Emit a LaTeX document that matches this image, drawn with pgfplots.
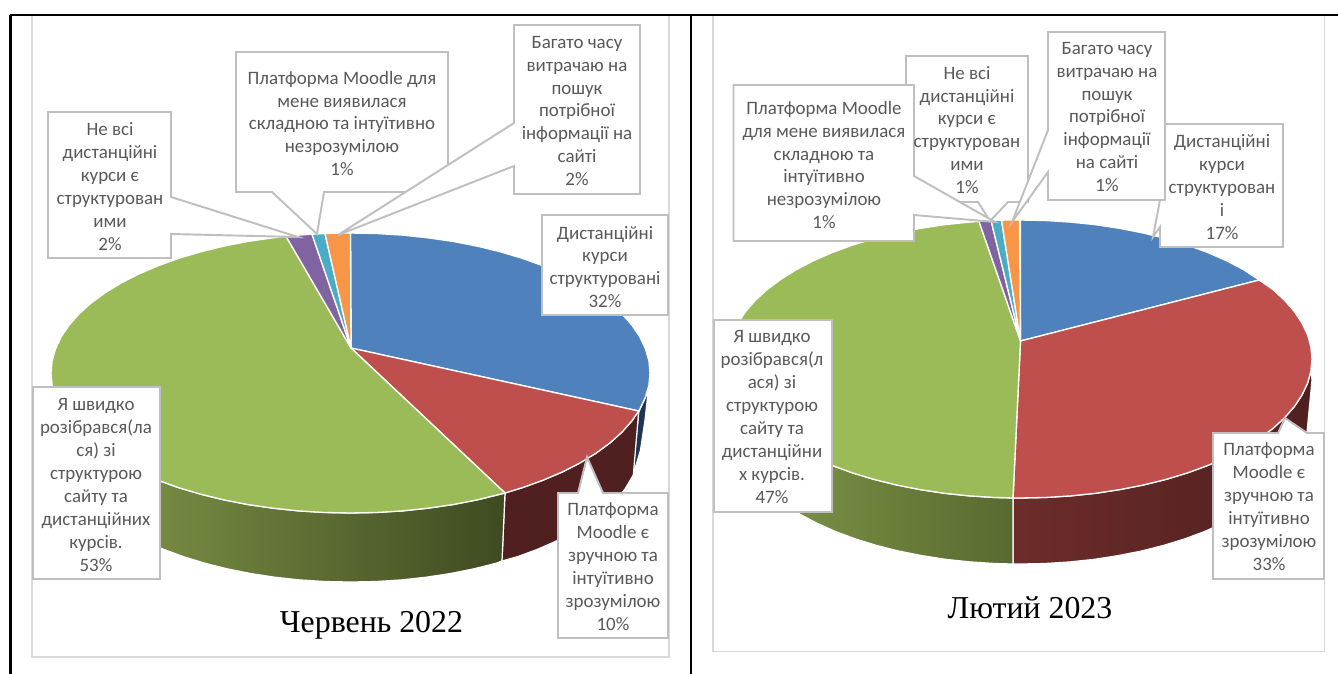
\documentclass[border=0pt]{standalone}
\usepackage{fontspec}
\setmainfont{Carlito}
\newfontfamily\titlefont{Liberation Serif}
\usepackage{pgfplots}
\pgfplotsset{compat=1.18}
\definecolor{cBlue}{HTML}{4F81BD}
\definecolor{cRed}{HTML}{BE4F4C}
\definecolor{cGreen}{HTML}{9BBB59}
\definecolor{cPurple}{HTML}{8064A2}
\definecolor{cTeal}{HTML}{4BACC6}
\definecolor{cOrange}{HTML}{F79646}
\definecolor{cNavy}{HTML}{1C3557}
\definecolor{cRedDark}{HTML}{4F201F}
\definecolor{cRedMid}{HTML}{6C2C2A}
\definecolor{cFrame}{HTML}{D9D9D9}
\definecolor{cBox}{HTML}{BFBFBF}
\definecolor{cTxt}{HTML}{595959}
\definecolor{gL1}{RGB}{133,156,75}
\definecolor{gR1}{RGB}{63,74,33}
\definecolor{gL2}{RGB}{127,149,71}
\definecolor{gR2}{RGB}{88,106,48}
\pgfplotsset{
  wedge/.style={draw=white,line width=1pt,line join=round},
  side/.style={draw=white,line width=0.9pt,line join=round},
  lbox/.style={draw=cBox,line width=1.45pt,fill=white,line join=miter},
  frame/.style={draw=cFrame,line width=1.3pt},
}
\newcommand\lab[3]{\node[font=\fontsize{14.2}{17.2}\selectfont,text=cTxt,align=center,inner sep=0pt] at (axis cs:#1,#2) {#3};}
\newcommand\ttl[3]{\node[font=\fontsize{23.9}{27}\selectfont\titlefont,text=black,inner sep=0pt] at (axis cs:#1,#2) {#3};}
\begin{document}
\begin{tikzpicture}
\begin{axis}[at={(0,0)},anchor=south west,scale only axis,width=1003.5pt,height=505.5pt,
  xmin=0,xmax=1338,ymin=0,ymax=674,y dir=reverse,hide axis,clip=true,no markers]
% frames
\addplot[frame] coordinates {(32,15)(669,15)(669,657)(32,657)} --cycle;
\addplot[frame] coordinates {(713,15)(1324.5,15)(1324.5,651.5)(713,651.5)} --cycle;
% table rules
\addplot[black,line width=1.1pt] coordinates {(10,15)(1338,15)};
\addplot[black,line width=1.9pt] coordinates {(10.5,15)(10.5,674)};
\addplot[black,line width=1.6pt] coordinates {(691,15)(691,674)};
\addplot[black,line width=1.6pt] coordinates {(1325,15.3)(1338,15.3)};
%% LEFT PIE sides
\addplot[side,fill=cNavy] coordinates {(638.7,412)(645.4,397.3)(648.5,388)(645,420)(640.5,450)(637,462)(633,474)} --cycle;
\addplot[side,fill=cRedDark] coordinates {(505,493)(522.3,487.7)(543,480.2)(562.3,472)(579.9,463)(595.8,453.3)(609.9,443)(621.9,432.2)(631.9,420.9)(638.7,411)(633.3,475)(624.9,489.2)(615.1,500.6)(603.4,511.5)(589.7,521.9)(574.2,531.6)(557,540.7)(538.2,549)(518,556.5)(502,561)} --cycle;
\addplot[side,left color=gL1,right color=gR1] coordinates {(61.2,409.2)(69.1,420.9)(79.1,432.2)(91.1,443)(105.2,453.3)(121.1,463)(138.7,472)(158,480.2)(178.7,487.7)(200.7,494.2)(223.9,499.9)(248.1,504.6)(273,508.2)(298.5,510.9)(324.4,512.5)(350.5,513)(376.6,512.5)(402.5,510.9)(428,508.2)(452.9,504.6)(477.1,499.9)(500.3,494.2)(505,493)(502,561)(496.5,563.1)(473.9,568.8)(450.4,573.5)(426.1,577.2)(401.2,579.9)(375.9,581.5)(350.5,582)(325.1,581.5)(299.8,579.9)(274.9,577.2)(250.6,573.5)(227.1,568.8)(204.5,563.1)(183,556.5)(162.8,549)(144,540.7)(126.8,531.6)(111.3,521.9)(97.6,511.5)(85.9,500.6)(76.1,489.2)(68.5,477.5)} --cycle;
%% LEFT PIE top
\addplot[wedge,fill=cBlue] coordinates {(351,348)(350.5,233)(376.6,233.5)(402.5,235.1)(428,237.8)(452.9,241.4)(477.1,246.1)(500.3,251.8)(522.3,258.3)(543,265.8)(562.3,274)(579.9,283)(595.8,292.7)(609.9,303)(621.9,313.8)(631.9,325.1)(639.8,336.8)(645.4,348.7)(648.9,360.8)(650,373)(648.9,385.2)(645.4,397.3)(639.8,409.2)(638.7,411)} --cycle;
\addplot[wedge,fill=cRed] coordinates {(351,348)(638.7,411)(631.9,420.9)(621.9,432.2)(609.9,443)(595.8,453.3)(579.9,463)(562.3,472)(543,480.2)(522.3,487.7)(505,493)} --cycle;
\addplot[wedge,fill=cGreen] coordinates {(351,348)(505,493)(500.3,494.2)(477.1,499.9)(452.9,504.6)(428,508.2)(402.5,510.9)(376.6,512.5)(350.5,513)(324.4,512.5)(298.5,510.9)(273,508.2)(248.1,504.6)(223.9,499.9)(200.7,494.2)(178.7,487.7)(158,480.2)(138.7,472)(121.1,463)(105.2,453.3)(91.1,443)(79.1,432.2)(69.1,420.9)(61.2,409.2)(55.6,397.3)(52.1,385.2)(51,373)(52.1,360.8)(55.6,348.7)(61.2,336.8)(69.1,325.1)(79.1,313.8)(91.1,303)(105.2,292.7)(121.1,283)(138.7,274)(158,265.8)(178.7,258.3)(200.7,251.8)(223.9,246.1)(248.1,241.4)(273,237.8)(286,236.3)} --cycle;
\addplot[wedge,fill=cPurple] coordinates {(351,348)(286,236.3)(298.5,235.1)(312,234.2)} --cycle;
\addplot[wedge,fill=cTeal] coordinates {(351,348)(312,234.2)(325,233.5)} --cycle;
\addplot[wedge,fill=cOrange] coordinates {(351,348)(325,233.5)(337.5,233.1)(350.5,233)} --cycle;
%% LEFT labels
\addplot[lbox] coordinates {(542,215)(668,215)(668,315)(542,315)} --cycle;
\addplot[lbox] coordinates {(558,493)(578,493)(587,457)(603,493)(668,493)(668,638)(558,638)} --cycle;
\addplot[lbox] coordinates {(33,387)(160,387)(160,579)(33,579)} --cycle;
\addplot[lbox] coordinates {(48,112)(171,112)(171,197)(298,237)(171,234)(171,258)(48,258)} --cycle;
\addplot[lbox] coordinates {(236,52)(448,52)(448,192)(324,192)(317,234)(272,192)(236,192)} --cycle;
\addplot[lbox] coordinates {(514,25)(640,25)(640,194)(514,194)(514,166)(338,235)(514,123)} --cycle;
%% RIGHT PIE sides
\addplot[side,left color=cRedMid,middle color=cRedDark,right color=cRedDark] coordinates {(1013,498)(1020,498)(1045.4,497.5)(1070.7,495.9)(1095.6,493.3)(1119.9,489.6)(1143.4,485)(1166,479.4)(1187.5,472.9)(1207.7,465.5)(1226.5,457.3)(1243.7,448.3)(1259.2,438.7)(1272.9,428.5)(1284.6,417.7)(1294.4,406.5)(1302,395)(1307.6,383.1)(1310.9,371.1)(1312,380)(1307,432)(1305.9,437.1)(1302.6,449.1)(1297.2,461)(1289.7,472.5)(1280.1,483.7)(1268.5,494.5)(1255.1,504.7)(1239.9,514.3)(1222.9,523.3)(1204.5,531.5)(1184.6,538.9)(1163.5,545.4)(1141.3,551)(1118.2,555.6)(1094.3,559.3)(1069.8,561.9)(1045,563.5)(1020,564)(1013,564)} --cycle;
\addplot[side,left color=gL2,right color=gR2] coordinates {(755.4,417.7)(767.1,428.5)(780.8,438.7)(796.3,448.3)(813.5,457.3)(832.3,465.5)(852.5,472.9)(874,479.4)(896.6,485)(920.1,489.6)(944.4,493.3)(969.3,495.9)(994.6,497.5)(1013,498)(1013,564)(995,563.5)(970.2,561.9)(945.7,559.3)(921.8,555.6)(898.7,551)(876.5,545.4)(855.4,538.9)(835.5,531.5)(817.1,523.3)(800.1,514.3)(784.9,504.7)(771.5,494.5)(759.9,483.7)} --cycle;
%% RIGHT PIE top
\addplot[wedge,fill=cBlue] coordinates {(1020.5,341)(1020.5,220)(1045.4,220.5)(1070.7,222.1)(1095.6,224.7)(1119.9,228.4)(1143.4,233)(1166,238.6)(1187.5,245.1)(1207.7,252.5)(1226.5,260.7)(1243.7,269.7)(1259.2,280)} --cycle;
\addplot[wedge,fill=cRed] coordinates {(1020.5,341)(1259.2,280)(1272.9,289.5)(1284.6,300.3)(1294.4,311.5)(1302,323)(1307.6,334.9)(1310.9,346.9)(1312,359)(1310.9,371.1)(1307.6,383.1)(1302,395)(1294.4,406.5)(1284.6,417.7)(1272.9,428.5)(1259.2,438.7)(1243.7,448.3)(1226.5,457.3)(1207.7,465.5)(1187.5,472.9)(1166,479.4)(1143.4,485)(1119.9,489.6)(1095.6,493.3)(1070.7,495.9)(1045.4,497.5)(1020,498)(1013,498)} --cycle;
\addplot[wedge,fill=cGreen] coordinates {(1020.5,341)(1013,498)(994.6,497.5)(969.3,495.9)(944.4,493.3)(920.1,489.6)(896.6,485)(874,479.4)(852.5,472.9)(832.3,465.5)(813.5,457.3)(796.3,448.3)(780.8,438.7)(767.1,428.5)(755.4,417.7)(745.6,406.5)(738,395)(732.4,383.1)(729.1,371.1)(728,359)(729.1,346.9)(732.4,334.9)(738,323)(745.6,311.5)(755.4,300.3)(767.1,289.5)(780.8,279.3)(796.3,269.7)(813.5,260.7)(832.3,252.5)(852.5,245.1)(874,238.6)(896.6,233)(920.1,228.4)(944.4,224.7)(969.3,222.1)(979,221.4)} --cycle;
\addplot[wedge,fill=cPurple] coordinates {(1020.5,341)(979,221.4)(991,220.4)} --cycle;
\addplot[wedge,fill=cTeal] coordinates {(1020.5,341)(991,220.4)(1001.5,220.1)} --cycle;
\addplot[wedge,fill=cOrange] coordinates {(1020.5,341)(1001.5,220.1)(1019.5,220)} --cycle;
%% RIGHT labels
\addplot[lbox] coordinates {(1160,124)(1283,124)(1283,247)(1160,247)(1160,227)(1153,237)(1160,200)} --cycle;
\addplot[lbox] coordinates {(714,320)(832,320)(832,512)(714,512)} --cycle;
\addplot[lbox] coordinates {(1213,433)(1278,433)(1285,418)(1307,433)(1324,433)(1324,579)(1213,579)} --cycle;
\addplot[lbox] coordinates {(906,56)(1028,56)(1028,202)(1008,202)(990,221)(978,202)(906,202)} --cycle;
\addplot[lbox] coordinates {(733.5,85)(914,85)(914,176)(995,222)(914,215)(914,241)(733.5,241)} --cycle;
\addplot[lbox] coordinates {(1048,32)(1165,32)(1165,200)(1048,200)(1048,172)(1012,222)(1048,130)} --cycle;
%% text
\lab{110}{186.5}{Не всі\\дистанційні\\курси є\\структурован\\ими\\2\%}
\lab{342}{123.5}{Платформа Moodle для\\мене виявилася\\складною та інтуїтивно\\незрозумілою\\1\%}
\lab{577}{111}{Багато часу\\витрачаю на\\пошук\\потрібної\\інформації на\\сайті\\2\%}
\lab{605}{267}{Дистанційні\\курси\\структуровані\\32\%}
\lab{96}{485}{Я швидко\\розібрався(ла\\ся) зі\\структурою\\сайту та\\дистанційних\\курсів.\\53\%}
\lab{613}{566.5}{Платформа\\Moodle є\\зручною та\\інтуїтивно\\зрозумілою\\10\%}
\ttl{371.5}{625.5}{Червень 2022}
\lab{967}{130}{Не всі\\дистанційні\\курси є\\структурован\\ими\\1\%}
\lab{824}{165}{Платформа Moodle\\для мене виявилася\\складною та\\інтуїтивно\\незрозумілою\\1\%}
\lab{1107}{117}{Багато часу\\витрачаю на\\пошук\\потрібної\\інформації\\на сайті\\1\%}
\lab{1222}{187}{Дистанційні\\курси\\структурован\\і\\17\%}
\lab{772}{417}{Я швидко\\розібрався(л\\ася) зі\\структурою\\сайту та\\дистанційни\\х курсів.\\47\%}
\lab{1269}{507}{Платформа\\Moodle є\\зручною та\\інтуїтивно\\зрозумілою\\33\%}
\ttl{1030}{608}{Лютий 2023}
\end{axis}
\pgfresetboundingbox
\path (current axis.south west) rectangle (current axis.north east);
\end{tikzpicture}
\end{document}
